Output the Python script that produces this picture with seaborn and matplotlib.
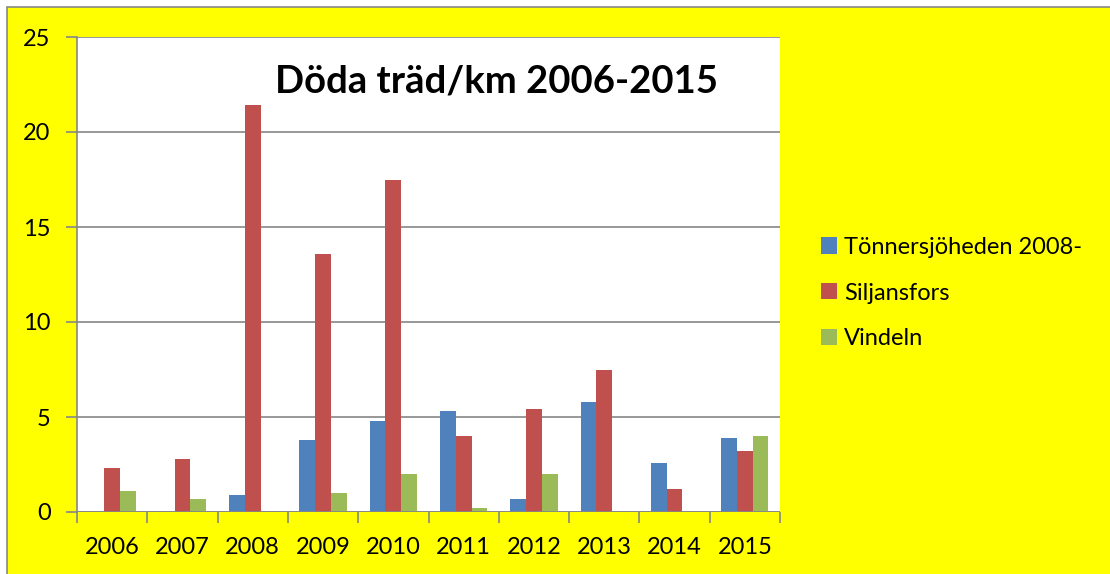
import numpy as np
import pandas as pd
import matplotlib.pyplot as plt
import matplotlib.patches as mpatches
from matplotlib.ticker import FixedLocator
import seaborn as sns

# --- data
years = ['2006', '2007', '2008', '2009', '2010', '2011', '2012', '2013', '2014', '2015']
tonnersjoheden = [np.nan, np.nan, 0.9, 3.8, 4.8, 5.3, 0.7, 5.8, 2.6, 3.9]
siljansfors = [2.3, 2.8, 21.4, 13.6, 17.5, 4.0, 5.4, 7.5, 1.2, 3.2]
vindeln = [1.1, 0.7, np.nan, 1.0, 2.0, 0.2, 2.0, np.nan, np.nan, 4.0]
series_names = ['Tönnersjöheden 2008-', 'Siljansfors', 'Vindeln']
colors = ['#4F81BD', '#C0504D', '#9BBB59']

df = pd.DataFrame({
    'År': years * 3,
    'Döda träd/km': tonnersjoheden + siljansfors + vindeln,
    'Lokal': [series_names[0]] * 10 + [series_names[1]] * 10 + [series_names[2]] * 10,
})

sns.set_style('white')
plt.rcParams['font.family'] = ['Lato', 'DejaVu Sans']
plt.rcParams['text.color'] = 'black'
plt.rcParams['xtick.labelcolor'] = 'black'
plt.rcParams['ytick.labelcolor'] = 'black'

fig = plt.figure(figsize=(11.1, 5.74), dpi=100, facecolor='white')
# yellow chart area with grey border (only top and left edges visible)
fig.patches.append(mpatches.Rectangle((7 / 1110, -0.05), 1.1, 1.05 - 7 / 574, transform=fig.transFigure,
                                      facecolor='#FFFF00', edgecolor='#868686', linewidth=1.2, zorder=-10))

ax = fig.add_axes([77 / 1110, 62 / 574, 703 / 1110, 475 / 574])
ax.set_facecolor('white')

sns.barplot(data=df, x='År', y='Döda träd/km', hue='Lokal', hue_order=series_names,
            palette=colors, width=0.67, gap=0, saturation=1, edgecolor='none',
            ax=ax, legend=True)

ax.set_xlim(-0.5, 9.5)
ax.set_ylim(0, 25)
ax.set_yticks([0, 5, 10, 15, 20, 25])
ax.set_xlabel('')
ax.set_ylabel('')

ax.grid(axis='y', color='#868686', linewidth=1.2)
ax.set_axisbelow(True)
for s in ['top', 'right', 'bottom']:
    ax.spines[s].set_visible(False)
ax.spines['left'].set_color('#868686')
ax.spines['left'].set_linewidth(1.2)
ax.axhline(0, color='#868686', linewidth=1.2, zorder=3)

ax.xaxis.set_minor_locator(FixedLocator(np.arange(-0.5, 10, 1)))
ax.tick_params(axis='x', which='major', length=0, pad=18, labelsize=17)
ax.tick_params(axis='x', which='minor', length=8, width=1.2, color='#868686', direction='out', bottom=True)
ax.tick_params(axis='y', length=8, width=1.2, color='#868686', direction='out', left=True, pad=11, labelsize=17)

ax.text(0.597, 0.907, 'Döda träd/km 2006-2015', transform=ax.transAxes, ha='center', va='center',
        fontsize=27.5, fontweight='bold', color='black')

handles, labels = ax.get_legend_handles_labels()
ax.legend_.remove()
fig.legend(handles, labels, loc='center left', bbox_to_anchor=(821 / 1110, 1 - 293 / 574),
           frameon=False, fontsize=17, handlelength=0.68, handleheight=0.68,
           handletextpad=0.3, labelspacing=1.05, borderpad=0, borderaxespad=0,
           labelcolor='black')

fig.savefig('out.png', dpi=100, facecolor=fig.get_facecolor())
